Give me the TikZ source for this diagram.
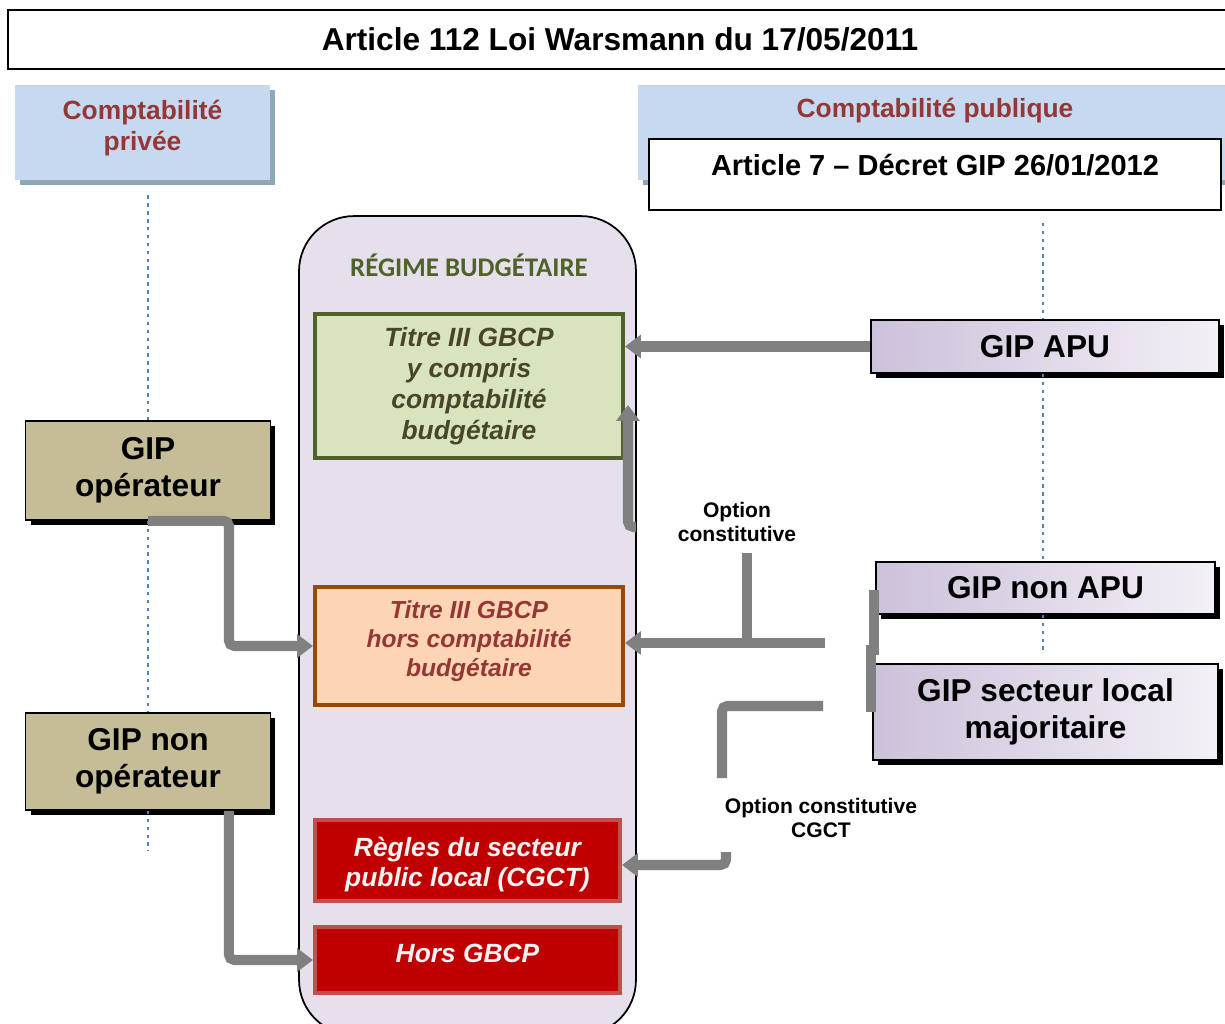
\documentclass[tikz,border=0pt]{standalone}
\usepackage{fontspec}
\setmainfont{Liberation Sans}
\newfontfamily\regimefont{Carlito}
\usetikzlibrary{arrows.meta,shadows}
\definecolor{bleuclair}{RGB}{198,217,241}
\definecolor{bleuombre}{RGB}{143,169,180}
\definecolor{rougebrun}{RGB}{149,55,53}
\definecolor{mauve}{RGB}{229,224,236}
\definecolor{olive}{RGB}{79,98,40}
\definecolor{vertclair}{RGB}{215,228,189}
\definecolor{texteolive}{RGB}{74,69,42}
\definecolor{peche}{RGB}{252,213,181}
\definecolor{orangebrun}{RGB}{152,72,7}
\definecolor{rougefonce}{RGB}{192,0,0}
\definecolor{rougeclair}{RGB}{192,80,77}
\definecolor{violetA}{RGB}{204,193,218}
\definecolor{violetB}{RGB}{243,240,246}
\definecolor{kaki}{RGB}{196,189,151}
\definecolor{gris}{RGB}{128,128,128}
\definecolor{pointille}{RGB}{79,129,189}
\begin{document}
\begin{tikzpicture}[x=0.02cm, y=-0.02cm,
    cadre/.style={draw=black, line width=0.9pt, inner sep=0pt, align=center, font=\bfseries},
    compta/.style={fill=bleuclair, inner sep=0pt, align=center, text=rougebrun,
      font=\fontsize{15}{17.6}\selectfont\bfseries,
      drop shadow={fill=bleuombre, opacity=1, shadow xshift=0.1cm, shadow yshift=-0.1cm}},
    gip/.style={cadre, font=\fontsize{18}{21}\selectfont\bfseries,
      drop shadow={fill=black, opacity=1, shadow xshift=0.1cm, shadow yshift=-0.1cm}},
    gipapu/.style={gip, left color=violetA, right color=violetB},
    gipop/.style={gip, fill=kaki},
    regle/.style={inner sep=0pt, align=center, line width=2.3pt,
      font=\fontsize{15}{17.6}\selectfont\bfseries\itshape},
    option/.style={align=center, font=\fontsize{12}{13.7}\selectfont\bfseries},
    fleche/.style={draw=gris, line width=5.7pt, rounded corners=3pt,
      -{Triangle[width=0.46cm,length=0.32cm]}},
    trait/.style={draw=gris, line width=5.7pt},
    repere/.style={draw=pointille, line width=1.2pt, dash pattern=on 2pt off 2.5pt}]
  \useasboundingbox (0,0) rectangle (1225,1024);
  % en-tetes
  \node[cadre, minimum width=24.48cm, minimum height=1.18cm,
    font=\fontsize{18}{21}\selectfont\bfseries] (titre) at (620,39.5) {Article 112 Loi Warsmann du 17/05/2011};
  \node[compta, minimum width=5.1cm, minimum height=1.9cm, text depth=0.27cm] (privee) at (142.5,132.5) {Comptabilité\\privée};
  \node[compta, minimum width=11.88cm, minimum height=1.9cm, text depth=1.0cm] (publique) at (935,132.5) {Comptabilité publique};
  \node[cadre, fill=white, minimum width=11.44cm, minimum height=1.42cm, text depth=0.38cm,
    font=\fontsize{16.5}{19}\selectfont\bfseries] (decret) at (935,174.5) {Article 7 -- Décret GIP 26/01/2012};
  % regime budgetaire
  \node[draw=black, line width=1pt, fill=mauve, rounded corners=1.1cm, inner sep=0pt,
    minimum width=6.74cm, minimum height=16.38cm] (regime) at (467.5,625.5) {};
  \node[text=olive, font=\regimefont\fontsize{15.3}{17}\selectfont\bfseries] (regtitre) at (469,265) {RÉGIME BUDGÉTAIRE};
  \node[regle, draw=olive, fill=vertclair, text=texteolive, minimum width=6.16cm, minimum height=2.88cm]
    (titreIII) at (469,386) {Titre III GBCP\\y compris\\comptabilité\\budgétaire};
  \node[regle, draw=orangebrun, fill=peche, text=rougebrun, minimum width=6.16cm, minimum height=2.36cm,
    text depth=0.3cm, font=\fontsize{14}{16.5}\selectfont\bfseries\itshape] (horscompta) at (469,646) {Titre III GBCP\\hors comptabilité\\budgétaire};
  \node[regle, draw=rougeclair, fill=rougefonce, text=white!95!black, minimum width=6.1cm, minimum height=1.62cm]
    (cgct) at (467.5,860.5) {\rule{0pt}{0.55cm}Règles du secteur\\public local (CGCT)};
  \node[regle, draw=rougeclair, fill=rougefonce, text=white!95!black, minimum width=6.1cm, minimum height=1.32cm,
    text depth=0.28cm] (horsgbcp) at (467.5,960) {Hors GBCP};
  % reperes
  \node[gipop, minimum width=4.9cm, minimum height=1.98cm] (oper) at (148,470.5) {GIP\\opérateur};
  \node[gipop, minimum width=4.9cm, minimum height=1.94cm] (nonoper) at (148,761.5) {GIP non\\opérateur};
  \draw[repere] ([yshift=-0.3cm]oper.north |- privee.south) -- (oper.north);
  \draw[repere] (oper.south) -- (nonoper.north);
  \draw[repere] (nonoper.south) -- ([yshift=-0.8cm]nonoper.south);
  % GIP
  \node[gipapu, minimum width=6.96cm, minimum height=1.06cm] (apu) at (1045,346.5) {GIP APU};
  \node[gipapu, minimum width=6.78cm, minimum height=1.04cm] (nonapu) at (1045.5,588) {GIP non APU};
  \node[gipapu, minimum width=6.9cm, minimum height=1.92cm] (secteur) at (1045.5,712) {GIP secteur local\\majoritaire};
  \draw[repere] ([xshift=-0.04cm, yshift=-0.24cm]apu.north |- decret.south) -- ([xshift=-0.04cm]apu.north);
  \draw[repere] ([xshift=-0.04cm]apu.south) -- ([xshift=-0.04cm]apu.south |- nonapu.north);
  \draw[repere] ([xshift=-0.04cm]apu.south |- nonapu.south) -- ([xshift=-0.04cm, yshift=-0.76cm]apu.south |- nonapu.south);
  % libelles
  \node[option] (optlabel1) at (737,522) {Option\\constitutive};
  \node[option] (optlabel2) at (821,818) {Option constitutive\\CGCT};
  % fleches
  \coordinate (crochet) at (636,527);
  \coordinate (option1) at (825,643);
  \coordinate (tee) at (747,643);
  \coordinate (option2) at (823,706);
  \coordinate (option3) at (726,852);
  \draw[fleche] (apu.west) -- (apu.west -| titreIII.east);
  \draw[fleche] (crochet) -- ++(-8,0) -- ++(0,-122);
  \draw[fleche] (option1) -- (option1 -| horscompta.east);
  \draw[trait] (tee) -- ++(0,-90);
  \draw[trait] ([xshift=-0.02cm, yshift=-0.04cm]nonapu.west) -- ++(0,65);
  \draw[trait] ([xshift=-0.02cm]secteur.west) -- ++(0,-67);
  \draw[trait, rounded corners=3pt] (option2) -- ++(-101,0) -- ++(0,72);
  \draw[fleche] (option3) |- ([yshift=-0.09cm]cgct.east);
  \draw[fleche] (oper.south) -- ++(81,0) |- (horscompta.west);
  \draw[fleche] ([xshift=1.62cm]nonoper.south) |- (horsgbcp.west);
\end{tikzpicture}
\end{document}
